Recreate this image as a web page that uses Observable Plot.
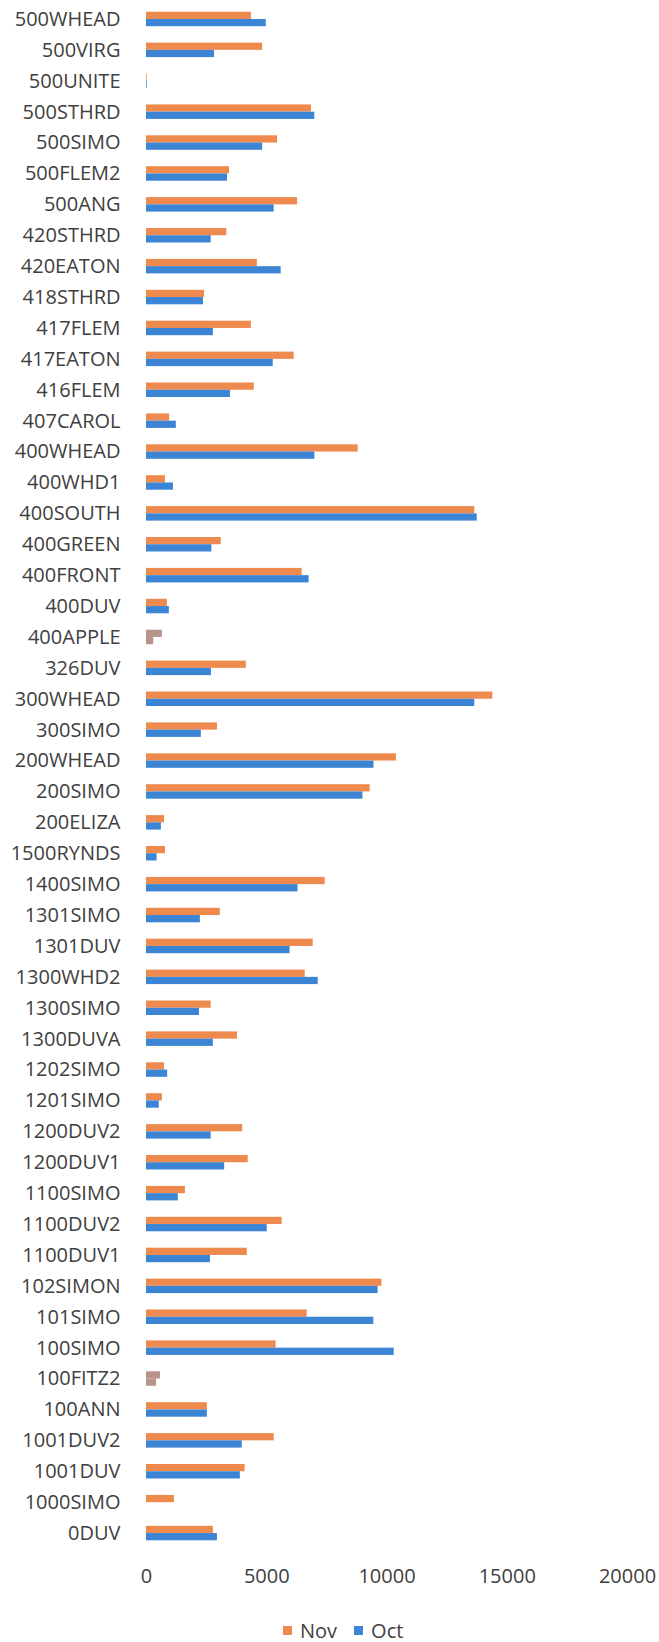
<!DOCTYPE html>
<html>
<head>
<meta charset="utf-8">
<script src="https://cdn.jsdelivr.net/npm/d3@7"></script>
<script src="https://cdn.jsdelivr.net/npm/@observablehq/plot@0.6"></script>
<style>
  html, body { margin: 0; padding: 0; background: #fff; }
  #chart svg { display: block; overflow: visible; }
  #legend { height: 24px; padding-top: 18px; display: flex; align-items: center; padding-left: 283px;
            font-family: "Open Sans", sans-serif; font-size: 20px; color: #404040; }
  #legend .sw { width: 9px; height: 9px; display: inline-block; margin-right: 8px; }
  #legend .item { display: flex; align-items: center; margin-right: 17px; }
</style>
</head>
<body>
<div id="chart"></div>
<div id="legend"></div>
<script>
const categories = ["500WHEAD","500VIRG","500UNITE","500STHRD","500SIMO","500FLEM2","500ANG","420STHRD","420EATON","418STHRD","417FLEM","417EATON","416FLEM","407CAROL","400WHEAD","400WHD1","400SOUTH","400GREEN","400FRONT","400DUV","400APPLE","326DUV","300WHEAD","300SIMO","200WHEAD","200SIMO","200ELIZA","1500RYNDS","1400SIMO","1301SIMO","1301DUV","1300WHD2","1300SIMO","1300DUVA","1202SIMO","1201SIMO","1200DUV2","1200DUV1","1100SIMO","1100DUV2","1100DUV1","102SIMON","101SIMO","100SIMO","100FITZ2","100ANN","1001DUV2","1001DUV","1000SIMO","0DUV"];
const nov = [4360,4830,30,6860,5450,3450,6280,3340,4610,2410,4360,6140,4480,960,8800,790,13650,3110,6470,870,660,4150,14400,2950,10390,9300,750,790,7430,3070,6930,6600,2690,3780,750,660,4000,4230,1620,5640,4190,9790,6680,5390,580,2530,5310,4100,1160,2780];
const oct = [4980,2830,30,7000,4830,3370,5310,2690,5600,2370,2780,5270,3490,1240,7000,1120,13750,2720,6760,950,300,2700,13650,2280,9460,9000,620,440,6300,2240,5970,7140,2200,2780,880,530,2690,3250,1320,5020,2660,9630,9450,10300,420,2530,3980,3900,0,2950];
const highlighted = ["400APPLE","100FITZ2"];
const seriesNames = ["Nov","Oct"];
const seriesColors = ["#EE8A4E","#3C84D4"];
const highlightColor = "#B8938A";
const xTicks = [0,5000,10000,15000,20000];

const rows = categories.map((c, i) => ({cat: c, nov: nov[i], oct: oct[i], hi: highlighted.includes(c)}));

const chart = Plot.plot({
  width: 659,
  height: 1600,
  marginLeft: 146,
  marginRight: 32,
  marginTop: 3.5,
  marginBottom: 51.5,
  style: {fontFamily: "Open Sans, sans-serif", fontSize: "20px", color: "#404040", background: "#fff"},
  color: {type: "identity"},
  x: {domain: [0, 20000], ticks: xTicks, tickFormat: "d", label: null, tickSize: 0, tickPadding: 20},
  y: {domain: categories, padding: 0, label: null, tickSize: 0, tickPadding: 26},
  marks: [
    Plot.barX(rows, {x: "nov", y: "cat", fill: d => d.hi ? highlightColor : seriesColors[0], insetTop: 8.2, insetBottom: 15.45}),
    Plot.barX(rows, {x: "oct", y: "cat", fill: d => d.hi ? highlightColor : seriesColors[1], insetTop: 15.45, insetBottom: 8.2})
  ]
});
document.getElementById("chart").appendChild(chart);

const legend = document.getElementById("legend");
seriesNames.forEach((name, i) => {
  const item = document.createElement("span");
  item.className = "item";
  const sw = document.createElement("span");
  sw.className = "sw";
  sw.style.background = seriesColors[i];
  item.appendChild(sw);
  item.appendChild(document.createTextNode(name));
  legend.appendChild(item);
});
</script>
</body>
</html>
